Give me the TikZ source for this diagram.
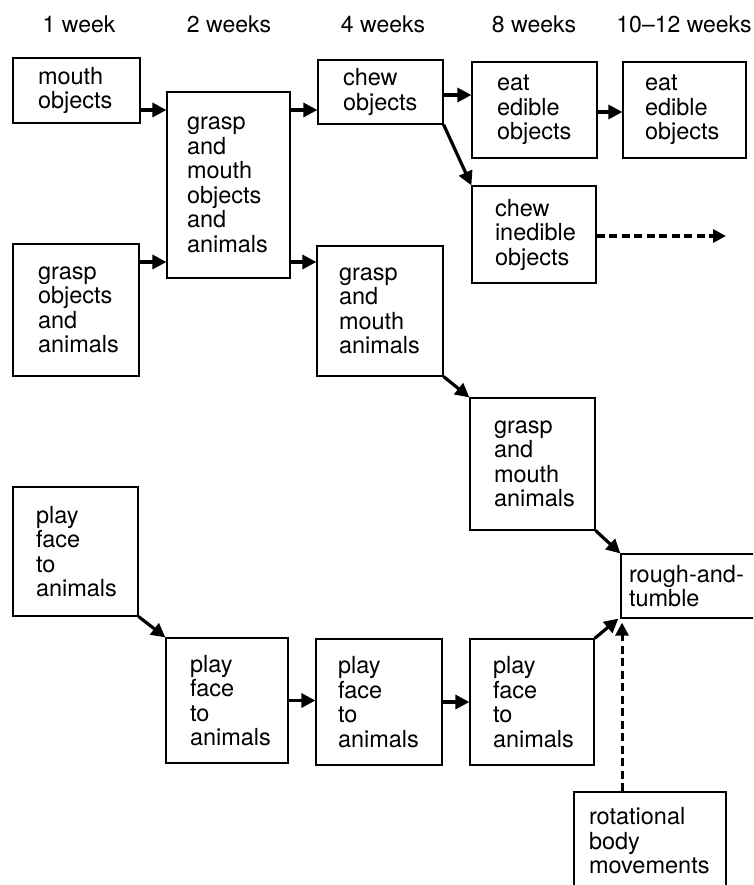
\documentclass[tikz,border=0pt]{standalone}
\usepackage{fontspec}
\setmainfont{TeX Gyre Heros}
\usetikzlibrary{arrows.meta}
\tikzset{
  box/.style={draw, line width=1.2pt, inner sep=0pt, align=left,
    font=\fontsize{23.5}{24.5}\selectfont},
  hdr/.style={inner sep=0pt, font=\fontsize{23}{24}\selectfont},
  arr/.style={line width=3.2pt, -{Triangle[length=14pt,width=14pt]}},
  darr/.style={line width=3pt, dash pattern=on 8pt off 4.5pt, -{Triangle[length=13pt,width=13pt]}}
}
\begin{document}
\begin{tikzpicture}[x=1pt,y=-1pt]
\clip (0,0) rectangle (753,885);
\fill[white] (0,0) rectangle (753,885);
% headers
\node[hdr] (h1) at (79,24) {1 week};
\node[hdr] (h2) at (229,24) {2 weeks};
\node[hdr] (h3) at (383,24) {4 weeks};
\node[hdr] (h4) at (534,24) {8 weeks};
\node[hdr] (h5) at (684,24) {10--12 weeks};
% boxes
\node[box, minimum width=127pt, minimum height=65pt, text width=77pt] (mouth) at (76.5,90.5) {mouth\\objects};
\node[box, minimum width=123pt, minimum height=186pt, text width=83pt] (gmoa) at (228.5,185) {grasp\\and\\mouth\\objects\\and\\animals};
\node[box, minimum width=125pt, minimum height=64pt, text width=75pt] (chew) at (380.5,92) {chew\\objects};
\node[box, minimum width=125pt, minimum height=96pt, text width=75pt] (eat1) at (534.5,110) {eat\\edible\\objects};
\node[box, minimum width=123pt, minimum height=96pt, text width=79pt] (eat2) at (684.5,110) {eat\\edible\\objects};
\node[box, minimum width=124pt, minimum height=97pt, text width=78pt] (ined) at (534,234.5) {chew\\inedible\\objects};
\node[box, minimum width=126pt, minimum height=132pt, text width=76pt] (gobj) at (76,310) {grasp\\objects\\and\\animals};
\node[box, minimum width=126pt, minimum height=130pt, text width=82pt] (gma4) at (380,311) {grasp\\and\\mouth\\animals};
\node[box, minimum width=125pt, minimum height=132pt, text width=77pt] (gma8) at (532.5,464) {grasp\\and\\mouth\\animals};
\node[box, minimum width=149pt, minimum height=64pt, text width=133pt] (rough) at (695.5,586) {rough-and-\\tumble};
\node[box, minimum width=125pt, minimum height=129pt, text width=79pt] (play1) at (75.5,551.5) {play\\face\\to\\animals};
\node[box, minimum width=122pt, minimum height=125pt, text width=74pt] (play2) at (227,700.5) {play\\face\\to\\animals};
\node[box, minimum width=126pt, minimum height=126pt, text width=82pt] (play4) at (379,702) {play\\face\\to\\animals};
\node[box, minimum width=124pt, minimum height=126pt, text width=78pt] (play8) at (532,702) {play\\face\\to\\animals};
\node[box, minimum width=152pt, minimum height=98pt, text width=122pt] (rot) at (650,841) {rotational\\body\\movements};
% arrow levels
\coordinate (yA) at (0,110);
\coordinate (yB) at (0,95);
\coordinate (yC) at (0,112);
\coordinate (yD) at (0,262);
\coordinate (dashend) at (726,236);
\coordinate (vx) at (622,0);
% connectors
\draw[arr] (mouth.east |- yA) -- (gmoa.west |- yA);
\draw[arr] (gmoa.east |- yA) -- (chew.west |- yA);
\draw[arr] (chew.east |- yB) -- (eat1.west |- yB);
\draw[arr] (eat1.east |- yC) -- (eat2.west |- yC);
\draw[arr] (gobj.east |- yD) -- (gmoa.west |- yD);
\draw[arr] (gmoa.east |- yD) -- (gma4.west |- yD);
\draw[arr] (chew.south east) -- (ined.north west);
\draw[darr] (ined.east |- dashend) -- (dashend);
\draw[arr] (gma4.south east) -- (gma8.north west);
\draw[arr] (gma8.south east) -- (rough.north west);
\draw[arr] (play1.south east) -- (play2.north west);
\draw[arr] (play2.east) -- (play2.east -| play4.west);
\draw[arr] (play4.east) -- (play4.east -| play8.west);
\draw[arr] (play8.north east) -- ([xshift=-2pt]rough.south west);
\draw[darr] (vx |- rot.north) -- ([yshift=-4pt]vx |- rough.south);
\end{tikzpicture}
\end{document}
